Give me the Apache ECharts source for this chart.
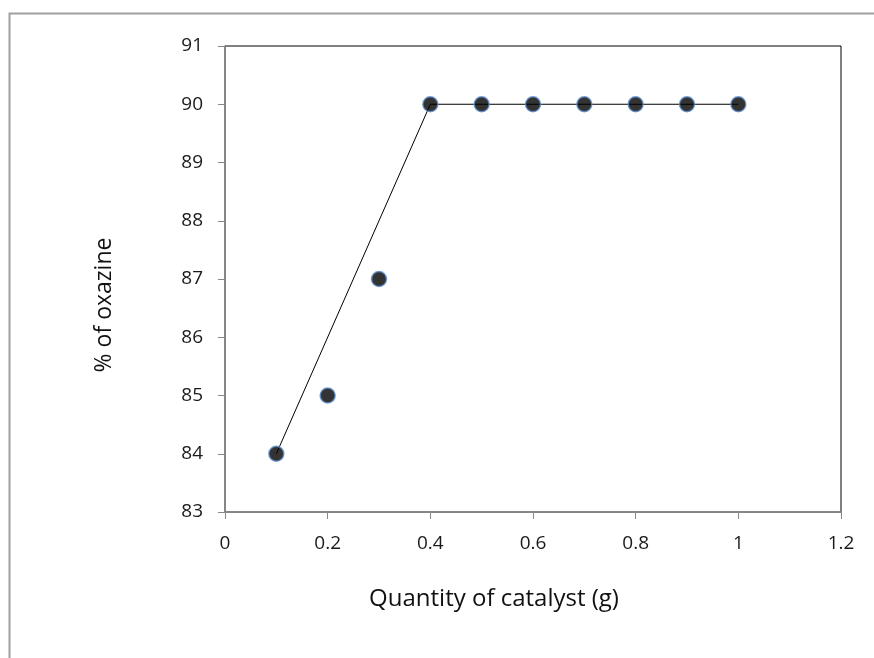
<!DOCTYPE html>
<html><head><meta charset="utf-8">
<script src="https://cdn.jsdelivr.net/npm/echarts@6/dist/echarts.min.js"></script>
<style>html,body{margin:0;padding:0;background:#fff}#c{width:874px;height:658px}</style>
</head><body><div id="c"></div>
<script>
var quantity = [0.1, 0.2, 0.3, 0.4, 0.5, 0.6, 0.7, 0.8, 0.9, 1.0];
var oxazine = [84, 85, 87, 90, 90, 90, 90, 90, 90, 90];
var trendX = [0.1, 0.4, 1.0];
var trendY = [84, 90, 90];

var chart = echarts.init(document.getElementById('c'));
var font = '"Open Sans", sans-serif';
chart.setOption({
  animation: false,
  graphic: [{type:'rect', shape:{x:9.5,y:13.5,width:900,height:700}, style:{fill:'none', stroke:'#a0a0a0', lineWidth:2}, z:-1}],
  grid: {left:225, top:46, right:33, bottom:146, show:true, borderColor:'#000', borderWidth:1},
  xAxis: {
    type:'value', min:0, max:1.2, interval:0.2,
    name:'Quantity of catalyst (g)', nameLocation:'middle', nameGap:75,
    nameTextStyle:{fontFamily:font, fontSize:24, color:'#111', padding:[0,78,0,0]},
    axisLine:{show:true, lineStyle:{color:'#888', width:1.5}},
    axisTick:{show:true, length:7, lineStyle:{color:'#888'}},
    axisLabel:{fontFamily:font, fontSize:19, color:'#1a1a1a', margin:22, formatter:function(v){return String(+v.toFixed(1));}},
    splitLine:{show:false}
  },
  yAxis: {
    type:'value', min:83, max:91, interval:1,
    name:'% of oxazine', nameLocation:'middle', nameGap:109,
    nameTextStyle:{fontFamily:font, fontSize:23, color:'#111', padding:[0,52,0,0]},
    axisLine:{show:true, lineStyle:{color:'#888', width:1.5}},
    axisTick:{show:true, length:7, lineStyle:{color:'#888'}},
    axisLabel:{fontFamily:font, fontSize:19, color:'#1a1a1a', margin:22},
    splitLine:{show:false}
  },
  series: [
    {type:'line', data: trendX.map(function(x,i){return [x,trendY[i]];}), symbol:'none',
     lineStyle:{color:'#000', width:1}, z:2},
    {type:'scatter', data: quantity.map(function(x,i){return [x,oxazine[i]];}), symbolSize:15,
     itemStyle:{color:'#000', borderColor:'#5a8ccc', borderWidth:1.5}, z:3}
  ]
});
</script></body></html>
